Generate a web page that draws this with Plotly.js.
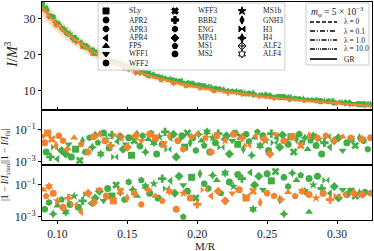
<!DOCTYPE html>
<html><head><meta charset="utf-8">
<script src="https://cdn.plot.ly/plotly-3.0.1.min.js"></script>
<style>html,body{margin:0;padding:0;background:#fff}#c{width:374px;height:251px}</style>
</head><body><div id="c"></div>
<script>
// ---- fit curve (GR) and band ----
const xFit=[0.089,0.095,0.10,0.11,0.12,0.13,0.14,0.15,0.16,0.17,0.18,0.19,0.20,0.21,0.22,0.23,0.24,0.25,0.26,0.27,0.28,0.29,0.30,0.31,0.325];
const yFit=[33.3,30.5,28.4,25.0,22.2,19.9,18.0,16.4,15.0,13.8,12.8,11.9,11.1,10.4,9.8,9.3,8.8,8.3,7.9,7.5,7.2,6.9,6.6,6.3,5.8];
const hiOuter=[35.9,32.9,30.6,26.9,23.9,21.4,19.3,17.6,16.1,14.8,13.75,12.8,11.95,11.2,10.58,10.05,9.52,9.0,8.58,8.16,7.84,7.52,7.2,6.88,6.35];
const loOuter=[30.7,28.1,26.2,23.1,20.5,18.4,16.7,15.2,13.9,12.8,11.85,11.0,10.25,9.6,9.02,8.55,8.08,7.6,7.22,6.84,6.56,6.28,6.0,5.72,5.25];
const hiInner=[34.6,31.7,29.5,25.95,23.05,20.65,18.65,17.0,15.55,14.3,13.28,12.35,11.53,10.8,10.19,9.68,9.16,8.65,8.24,7.83,7.52,7.21,6.9,6.59,6.08];
const loInner=[32.0,29.3,27.3,24.05,21.35,19.15,17.35,15.8,14.45,13.3,12.32,11.45,10.68,10.0,9.41,8.93,8.44,7.95,7.56,7.17,6.88,6.59,6.3,6.01,5.52];

// ---- top panel points ----
const xTopG=[0.089,0.091,0.093,0.095,0.097,0.099,0.101,0.103,0.105,0.107,0.109,0.111,0.113,0.115,0.117,0.119,0.121,0.123,0.125,0.127,0.129,0.131,0.133,0.135,0.137,0.139,0.141,0.143,0.145,0.147,0.149,0.151,0.153,0.155,0.157,0.159,0.161,0.163,0.165,0.167,0.169,0.171,0.173,0.175,0.177,0.179,0.181,0.183,0.185,0.187,0.189,0.191,0.193,0.195,0.197,0.199,0.201,0.204,0.207,0.210,0.213,0.216,0.219,0.222,0.225,0.228,0.231,0.234,0.237,0.240,0.243,0.246,0.249,0.252,0.255,0.258,0.261,0.264,0.267,0.270,0.273,0.276,0.279,0.282,0.285,0.288,0.291,0.294,0.297,0.300,0.303,0.306,0.309,0.312,0.315,0.318,0.321,0.324];
const yTopG=[34.5,33.0,32.5,30.8,30.5,29.0,28.8,27.5,27.0,26.0,25.8,24.8,24.5,23.5,23.4,22.5,22.3,21.5,21.3,20.6,20.5,19.8,19.6,19.0,18.9,18.3,18.2,17.6,17.5,17.0,16.9,16.4,16.3,15.9,15.8,15.3,15.3,14.9,14.8,14.4,14.4,14.0,13.9,13.6,13.6,13.2,13.2,12.9,12.8,12.6,12.5,12.2,12.2,11.9,11.9,11.6,11.6,11.3,11.1,10.9,10.7,10.5,10.3,10.1,9.9,9.8,9.6,9.4,9.3,9.2,9.0,8.9,8.8,8.6,8.5,8.4,8.3,8.2,8.1,7.9,7.8,7.7,7.6,7.5,7.4,7.3,7.2,7.1,7.0,6.9,6.8,6.7,6.6,6.5,6.4,6.3,6.3,6.2];
const xTopO=[0.090,0.094,0.099,0.105,0.112,0.118,0.125,0.132,0.140,0.148,0.156,0.165,0.174,0.183,0.192,0.202,0.212,0.222,0.233,0.244,0.255,0.266,0.277,0.288,0.299,0.310,0.320];
const yTopO=[32.5,30.6,28.3,26.4,24.0,22.4,20.4,18.9,17.6,16.2,15.0,13.9,13.0,12.1,11.4,10.7,10.0,9.5,8.9,8.4,8.0,7.6,7.2,6.9,6.6,6.3,6.0];

// ---- middle panel |1 - I/I_fit| ----
const xMidG=[0.092,0.095,0.098,0.100,0.103,0.106,0.108,0.110,0.113,0.116,0.118,0.120,0.123,0.125,0.127,0.129,0.131,0.133,0.135,0.137,0.139,0.141,0.143,0.145,0.147,0.149,0.151,0.153,0.155,0.157,0.159,0.161,0.163,0.165,0.167,0.169,0.171,0.173,0.175,0.177,0.179,0.181,0.183,0.185,0.187,0.189,0.191,0.193,0.195,0.197,0.199,0.201,0.203,0.205,0.207,0.209,0.211,0.213,0.215,0.217,0.219,0.221,0.223,0.225,0.227,0.229,0.231,0.233,0.235,0.237,0.239,0.241,0.243,0.245,0.247,0.249,0.251,0.253,0.255,0.257,0.259,0.261,0.263,0.265,0.267,0.269,0.271,0.273,0.275,0.277,0.279,0.281,0.283,0.285,0.287,0.289,0.291,0.293,0.295,0.298,0.301,0.304,0.307,0.310,0.313,0.316,0.319,0.322];
const yMidG=[0.004,0.002,0.008,0.0015,0.005,0.003,0.012,0.002,0.006,0.0012,0.02,0.004,0.03,0.008,0.05,0.015,0.003,0.06,0.025,0.007,0.045,0.002,0.018,0.035,0.006,0.012,0.03,0.0025,0.02,0.05,0.009,0.04,0.004,0.025,0.06,0.015,0.003,0.035,0.012,0.07,0.006,0.03,0.05,0.002,0.02,0.04,0.008,0.06,0.015,0.03,0.005,0.05,0.02,0.01,0.07,0.004,0.03,0.015,0.055,0.008,0.025,0.04,0.003,0.02,0.06,0.012,0.035,0.006,0.05,0.018,0.0025,0.03,0.07,0.01,0.04,0.02,0.005,0.055,0.015,0.03,0.008,0.045,0.02,0.012,0.035,0.004,0.025,0.05,0.015,0.03,0.006,0.02,0.04,0.01,0.025,0.003,0.015,0.035,0.008,0.02,0.03,0.005,0.015,0.025,0.01,0.03,0.02,0.006];
const xMidO=[0.090,0.091,0.093,0.096,0.099,0.101,0.104,0.107,0.112,0.117,0.122,0.126,0.130,0.134,0.138,0.142,0.146,0.150,0.156,0.160,0.166,0.170,0.176,0.180,0.186,0.190,0.196,0.200,0.206,0.210,0.214,0.220,0.226,0.232,0.236,0.242,0.248,0.252,0.256,0.262,0.268,0.274,0.280,0.286,0.292,0.298,0.304,0.310,0.318,0.324];
const yMidO=[0.04,0.015,0.06,0.025,0.01,0.04,0.02,0.006,0.03,0.012,0.004,0.035,0.05,0.02,0.01,0.045,0.03,0.008,0.04,0.02,0.05,0.03,0.012,0.04,0.02,0.006,0.035,0.05,0.03,0.004,0.04,0.02,0.05,0.03,0.01,0.04,0.025,0.003,0.05,0.02,0.035,0.01,0.04,0.03,0.04,0.02,0.035,0.03,0.025,0.03];

// ---- bottom panel ----
const xBotG=[0.091,0.094,0.097,0.100,0.103,0.106,0.109,0.112,0.115,0.118,0.121,0.124,0.127,0.130,0.133,0.136,0.139,0.142,0.145,0.148,0.151,0.154,0.157,0.160,0.163,0.166,0.169,0.172,0.175,0.178,0.181,0.184,0.187,0.190,0.193,0.196,0.199,0.202,0.205,0.208,0.211,0.214,0.217,0.220,0.223,0.226,0.229,0.232,0.235,0.238,0.241,0.244,0.247,0.250,0.253,0.256,0.259,0.262,0.265,0.268,0.271,0.274,0.277,0.280,0.283,0.286,0.289,0.292,0.295,0.298,0.301,0.304,0.307,0.310,0.313,0.316,0.320,0.324,0.262,0.280,0.190,0.240];
const yBotG=[0.003,0.008,0.0015,0.005,0.012,0.002,0.006,0.02,0.004,0.01,0.025,0.007,0.015,0.04,0.01,0.06,0.02,0.1,0.035,0.012,0.15,0.05,0.02,0.2,0.08,0.03,0.12,0.015,0.25,0.06,0.18,0.03,0.35,0.1,0.04,0.3,0.015,0.5,0.12,0.06,0.4,0.2,0.03,0.55,0.15,0.08,0.45,0.25,0.02,0.6,0.1,0.35,0.05,0.5,0.18,0.7,0.012,0.3,0.08,0.55,0.2,0.4,0.04,0.25,0.1,0.35,0.06,0.2,0.03,0.08,0.015,0.05,0.025,0.04,0.02,0.03,0.035,0.03,0.0015,0.002,0.001,0.003];
const xBotO=[0.090,0.092,0.094,0.097,0.100,0.104,0.108,0.112,0.117,0.122,0.126,0.130,0.135,0.140,0.145,0.150,0.155,0.160,0.165,0.170,0.175,0.180,0.185,0.190,0.195,0.200,0.205,0.210,0.215,0.220,0.225,0.230,0.235,0.240,0.245,0.250,0.255,0.260,0.265,0.270,0.275,0.280,0.285,0.290,0.295,0.300,0.306,0.312,0.318,0.324];
const yBotO=[0.05,0.02,0.08,0.03,0.01,0.004,0.015,0.006,0.002,0.03,0.008,0.05,0.02,0.01,0.04,0.015,0.03,0.006,0.05,0.02,0.01,0.04,0.003,0.03,0.015,0.006,0.05,0.02,0.04,0.01,0.03,0.05,0.015,0.04,0.008,0.03,0.02,0.012,0.035,0.02,0.04,0.025,0.015,0.03,0.012,0.02,0.025,0.03,0.025,0.03];

// ---- legend labels ----
const eosNames=[["SLy","APR2","APR3","APR4","FPS","WFF1","WFF2"],["WFF3","BBB2","ENG","MPA1","MS1","MS2"],["MS1b","GNH3","H3","H4","ALF2","ALF4"]];
const eosSymbols=[["square","circle","octagon","triangle-left","triangle-up","triangle-down","circle"],["x","cross","hexagon","diamond","pentagon","circle"],["star","diamond-tall","bowtie","star-diamond","diamond-cross-open","hexagram-open"]];
const lamLabels=["λ = 0","λ = 0.1","λ = 1.0","λ = 10.0","GR"];
const lamDash=["4px,2px","5px,2px,1px,2px","5px,1.5px,1px,1.5px,1px,1.5px","5px,1px,1px,1px,1px,1px,1px,1px","solid"];

const GREEN="#41ae45", ORANGE="#f4822f";
const FONT="Liberation Serif, DejaVu Serif, serif";
const allSym=[].concat(...eosSymbols).map(s=>s.replace("-open","").replace("-cross",""));
const symFor=(n,off)=>Array.from({length:n},(_, i)=>allSym[(i*7+off)%allSym.length]);

const traces=[];
traces.push({x:xFit.concat(xFit.slice().reverse()),y:hiOuter.concat(loOuter.slice().reverse()),fill:"toself",fillcolor:"rgba(250,205,170,0.6)",line:{width:0},mode:"lines",xaxis:"x",yaxis:"y",hoverinfo:"skip"});
traces.push({x:xFit.concat(xFit.slice().reverse()),y:hiInner.concat(loInner.slice().reverse()),fill:"toself",fillcolor:"rgba(247,180,140,0.55)",line:{width:0},mode:"lines",xaxis:"x",yaxis:"y",hoverinfo:"skip"});
traces.push({x:xTopO,y:yTopO,mode:"markers",marker:{color:ORANGE,size:5,symbol:symFor(xTopO.length,3)},xaxis:"x",yaxis:"y"});
traces.push({x:xTopG,y:yTopG,mode:"markers",marker:{color:GREEN,size:6,symbol:symFor(xTopG.length,0)},xaxis:"x",yaxis:"y"});
traces.push({x:xFit,y:yFit,mode:"lines",line:{color:ORANGE,width:2.2,shape:"spline"},xaxis:"x",yaxis:"y"});
traces.push({x:xMidG,y:yMidG,mode:"markers",marker:{color:GREEN,size:7,symbol:symFor(xMidG.length,1)},xaxis:"x2",yaxis:"y2"});
traces.push({x:xMidO,y:yMidO,mode:"markers",marker:{color:ORANGE,size:7,symbol:symFor(xMidO.length,5)},xaxis:"x2",yaxis:"y2"});
traces.push({x:xBotG,y:yBotG,mode:"markers",marker:{color:GREEN,size:7,symbol:symFor(xBotG.length,2)},xaxis:"x3",yaxis:"y3"});
traces.push({x:xBotO,y:yBotO,mode:"markers",marker:{color:ORANGE,size:7,symbol:symFor(xBotO.length,4)},xaxis:"x3",yaxis:"y3"});

const box=(x0,x1,y0,y1)=>({x:[x0,x1,x1,x0,x0],y:[y0,y0,y1,y1,y0],fill:"toself",fillcolor:"rgba(255,255,255,0.85)",line:{color:"#cccccc",width:1},mode:"lines",xaxis:"x4",yaxis:"y4",hoverinfo:"skip"});
traces.push(box(0.170,0.736,0.370,0.991));
traces.push(box(0.800,0.991,0.417,0.991));
const rowsY=[0.917,0.833,0.750,0.667,0.593,0.519,0.435];
const colMX=[0.194,0.403,0.606], colTX=[0.258,0.467,0.664];
const annotations=[];
eosNames.forEach((col,ci)=>{
  traces.push({x:col.map(()=>colMX[ci]),y:col.map((_,ri)=>rowsY[ri]),mode:"markers",marker:{color:"black",size:6,symbol:eosSymbols[ci],line:{color:"black",width:1}},xaxis:"x4",yaxis:"y4",cliponaxis:false});
  col.forEach((n,ri)=>annotations.push({xref:"x4",yref:"y4",x:colTX[ci],y:rowsY[ri],text:n,showarrow:false,xanchor:"left",yanchor:"middle",font:{family:FONT,size:7.5,color:"#222"}}));
});
const lamY=[0.815,0.731,0.648,0.565,0.472];
lamLabels.forEach((l,i)=>{
  traces.push({x:[0.812,0.894],y:[lamY[i],lamY[i]],mode:"lines",line:{color:"black",width:1.6,dash:lamDash[i]},xaxis:"x4",yaxis:"y4"});
  annotations.push({xref:"x4",yref:"y4",x:0.909,y:lamY[i],text:l,showarrow:false,xanchor:"left",yanchor:"middle",font:{family:FONT,size:7.5,color:"#222"}});
});
annotations.push({xref:"x4",yref:"y4",x:0.895,y:0.91,text:"<i>m</i><sub>φ</sub> = 5 × 10<sup>−3</sup>",showarrow:false,xanchor:"center",yanchor:"middle",font:{family:FONT,size:9.5,color:"#222"}});
annotations.push({xref:"paper",yref:"paper",x:-0.093,y:0.76,text:"<i>I</i>/<i>M</i><sup>3</sup>",textangle:-90,showarrow:false,xanchor:"center",yanchor:"middle",font:{family:FONT,size:14,color:"#222"}});
annotations.push({xref:"paper",yref:"paper",x:-0.11,y:0.255,text:"|1 − <i>I</i>/<i>I</i><sub>ylan</sub>||1 − <i>I</i>/<i>I</i><sub>fit</sub>|",textangle:-90,showarrow:false,xanchor:"center",yanchor:"middle",font:{family:FONT,size:9.5,color:"#222"}});
annotations.push({xref:"paper",yref:"paper",x:0.494,y:-0.118,text:"M/R",showarrow:false,xanchor:"center",yanchor:"middle",font:{family:FONT,size:11,color:"#222"}});

const tf={family:FONT,size:12,color:"#222"};
const base={showline:true,linecolor:"black",linewidth:1,mirror:true,showgrid:false,zeroline:false,tickfont:tf,ticklen:3,tickcolor:"black"};
const xr=[0.089,0.325];
const layout={
  width:374,height:251,margin:{l:42,r:2,t:2,b:31},paper_bgcolor:"white",plot_bgcolor:"white",showlegend:false,
  xaxis:Object.assign({},base,{domain:[0,1],range:xr,anchor:"y",showticklabels:false,ticks:"inside",tickvals:[0.10,0.15,0.20,0.25,0.30]}),
  xaxis2:Object.assign({},base,{domain:[0,1],range:xr,anchor:"y2",showticklabels:false,ticks:""}),
  xaxis3:Object.assign({},base,{domain:[0,1],range:xr,anchor:"y3",ticks:"outside",tickfont:{family:FONT,size:11.5,color:"#222"},tickvals:[0.10,0.15,0.20,0.25,0.30],ticktext:["0.10","0.15","0.20","0.25","0.30"]}),
  yaxis:Object.assign({},base,{domain:[0.5046,1],range:[4.7,34.7],anchor:"x",ticks:"outside",tickvals:[10,20,30]}),
  yaxis2:Object.assign({},base,{domain:[0.2523,0.5046],type:"log",range:[-3.2,0.2],anchor:"x2",ticks:"outside",tickvals:[0.1,0.001],ticktext:["10<sup>−1</sup>","10<sup>−3</sup>"]}),
  yaxis3:Object.assign({},base,{domain:[0,0.2523],type:"log",range:[-3.2,0.25],anchor:"x3",ticks:"outside",tickvals:[0.1,0.001],ticktext:["10<sup>−1</sup>","10<sup>−3</sup>"]}),
  xaxis4:{overlaying:"x",anchor:"y4",range:[0,1],visible:false,fixedrange:true},
  yaxis4:{overlaying:"y",anchor:"x4",range:[0,1],visible:false,fixedrange:true},
  annotations:annotations
};
Plotly.newPlot("c",traces,layout,{staticPlot:true,displayModeBar:false});
</script></body></html>
